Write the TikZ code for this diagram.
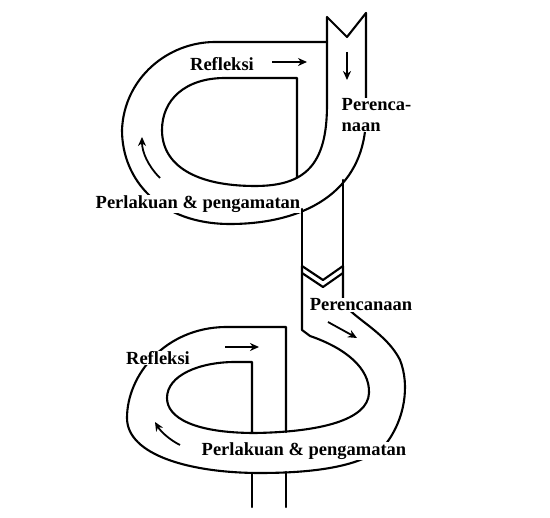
\documentclass[tikz,border=0pt]{standalone}
\usepackage{fontspec}
\setmainfont{Liberation Serif}
\usetikzlibrary{
    arrows.meta,
    positioning
}
\tikzset{
    % --- Edge line of the spiral ribbon ---
    ribbon/.style = {
        draw, line width=2.1pt,
        line cap=round, line join=round
    },
    % --- Small direction arrow inside the ribbon ---
    flow arrow/.style = {
        -{Stealth[length=9pt, width=8pt]}, line width=1.8pt
    },
    % --- Stage name (white box hides the ribbon behind it) ---
    stage/.style = {
        font=\fontsize{18.5}{21}\selectfont\bfseries,
        fill=white, inner sep=0.5pt, align=left
    }
}

\begin{document}
\begin{tikzpicture}[
    x=1pt, y=-1pt,
    >=Stealth
]

\useasboundingbox (0,0) rectangle (550,518);

% ---------------------------------------------------------
% 1. First cycle (top)
% ---------------------------------------------------------
% incoming strip with notched end
\coordinate (TopL) at (327,17);
\coordinate (TopR) at (366,13);
\draw[ribbon] (TopL) -- (347,37) -- (TopR);

% outer edge: right side, bottom, left side, top
\draw[ribbon] (TopR) -- (366,115)
    .. controls (366,195) and (300,224) .. (230,224)
    .. controls (160,224) and (122,180) .. (122,130)
    .. controls (124,78) and (168,42) .. (215,42) -- (327,42);

% inner edge, ending in the downward strip
\draw[ribbon] (TopL) -- (327,105)
    .. controls (327,165) and (305,186) .. (255,186)
    .. controls (195,186) and (162,165) .. (162,130)
    .. controls (162,100) and (185,78) .. (225,78)
    -- (297,78) -- (297,177);

% strip going down to the next cycle
\draw[ribbon] (302,209) -- (302,266);
\draw[ribbon] (343,180) -- (343,266);
\draw[ribbon] (302,266) -- (323,280) -- (343,266);

% direction arrows
\draw[flow arrow] (272,62) -- (307,62);
\draw[flow arrow] (347,52) -- (347,80);
\draw[flow arrow] (160,178) .. controls (148,166) and (142,152) .. (142,137);

% ---------------------------------------------------------
% 2. Second cycle (bottom)
% ---------------------------------------------------------
% notched start of the strip
\draw[ribbon] (302,273) -- (323,287) -- (343,273);

% outer edge: right side, bottom, left side, top
\draw[ribbon] (343,266) -- (343,300)
    .. controls (346,315) and (385,330) .. (400,360)
    .. controls (410,385) and (405,420) .. (385,445)
    .. controls (365,465) and (320,473) .. (260,473)
    .. controls (190,473) and (127,455) .. (127,418)
    .. controls (127,375) and (165,328) .. (225,327)
    -- (286,327) -- (286,432);

% inner edge
\draw[ribbon] (302,266) -- (302,330) -- (310,336)
    .. controls (345,348) and (370,368) .. (369,393)
    .. controls (368,420) and (320,432) .. (255,433)
    .. controls (195,433) and (167,418) .. (167,398)
    .. controls (167,375) and (200,362) .. (235,362)
    -- (252,362) -- (252,433);

% strip leaving below
\draw[ribbon] (252,473) -- (252,507);
\draw[ribbon] (286,472) -- (286,507);

% direction arrows
\draw[flow arrow] (328,322) -- (357,338);
\draw[flow arrow] (225,347) -- (259,347);
\draw[flow arrow] (180,445) .. controls (170,440) and (161,432) .. (155,422);

% ---------------------------------------------------------
% 3. Stage names
% ---------------------------------------------------------
\node[stage] (ReflA) at (222,64) {Refleksi};
\node[stage, anchor=north west] (PlanA) at (341,98) {Perenca-\\naan};
\node[stage] (ActA) at (198,204) {Perlakuan \& pengamatan};

\node[stage] (PlanB) at (361,305) {Perencanaan};
\node[stage] (ReflB) at (158,358) {Refleksi};
\node[stage] (ActB) at (304,451) {Perlakuan \& pengamatan};

\end{tikzpicture}
\end{document}
